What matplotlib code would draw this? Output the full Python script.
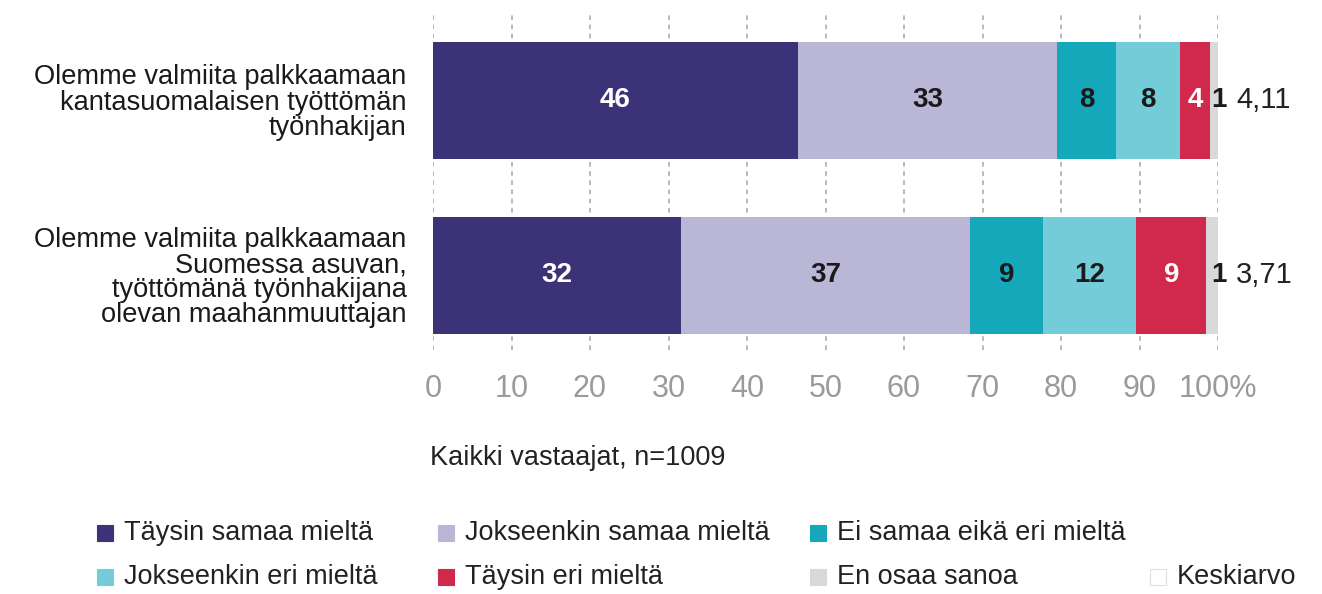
import matplotlib
matplotlib.use("Agg")
import matplotlib.pyplot as plt
from matplotlib.patches import Rectangle

plt.rcParams['font.family'] = ['Liberation Sans', 'DejaVu Sans']

categories = [
    "Olemme valmiita palkkaamaan\nkantasuomalaisen työttömän\ntyönhakijan",
    "Olemme valmiita palkkaamaan\nSuomessa asuvan,\ntyöttömänä työnhakijana\nolevan maahanmuuttajan",
]
series_names = ["Täysin samaa mieltä", "Jokseenkin samaa mieltä", "Ei samaa eikä eri mieltä",
                "Jokseenkin eri mieltä", "Täysin eri mieltä", "En osaa sanoa"]
# segment widths (percent)
values = [
    [46.5, 31.6],   # Täysin samaa
    [33.0, 36.8],   # Jokseenkin samaa
    [7.5, 9.3],     # Ei samaa eikä eri
    [8.2, 11.9],    # Jokseenkin eri
    [3.8, 8.9],     # Täysin eri
    [1.0, 1.5],     # En osaa sanoa
]
# printed labels
labels = [
    [46, 32], [33, 37], [8, 9], [8, 12], [4, 9], [1, 1],
]
means = ["4,11", "3,71"]
xticks = [0, 10, 20, 30, 40, 50, 60, 70, 80, 90, 100]
xticklabels = ["0", "10", "20", "30", "40", "50", "60", "70", "80", "90", "100%"]
note = "Kaikki vastaajat, n=1009"
mean_label = "Keskiarvo"

colors = ["#3b3278", "#b9b6d6", "#15a7ba", "#74ccd8", "#d1294c", "#d9d9d9"]
text_colors = ["white", "#1a1a1a", "#1a1a1a", "#1a1a1a", "white", "#1a1a1a"]

W, H = 1322, 594
fig = plt.figure(figsize=(W / 100, H / 100), dpi=100)
ax = fig.add_axes([433 / W, 1 - 350 / H, (1218 - 433) / W, (350 - 15) / H])

ypos = [0, 1]
height = 117 / 175
lefts = [0.0, 0.0]
for i, (name, vals) in enumerate(zip(series_names, values)):
    ax.barh(ypos, vals, left=lefts, height=height, color=colors[i], zorder=2, label=name)
    for j in range(len(ypos)):
        cx = lefts[j] + vals[j] / 2
        if i == len(series_names) - 1:
            ax.text(lefts[j] + vals[j] - 0.8, ypos[j], str(labels[i][j]), ha='left', va='center',
                    fontsize=20, fontweight='bold', color=text_colors[i], zorder=4)
        else:
            ax.text(cx, ypos[j], str(labels[i][j]), ha='center', va='center',
                    fontsize=20, fontweight='bold', color=text_colors[i], zorder=4)
        lefts[j] += vals[j]

for j in range(len(ypos)):
    ax.text(102.3, ypos[j], means[j], ha='left', va='center', fontsize=21, color='#222222')

ax.set_xlim(0, 100)
ax.set_ylim(1 + 75 / 175, -85 / 175)
for x in xticks:
    ax.axvline(x, color='#a6a6a6', linestyle=(0, (3, 3)), linewidth=1.1, zorder=1)
ax.set_xticks(xticks)
ax.set_xticklabels(xticklabels, fontsize=22, color='#9a9a9a')
ax.tick_params(axis='x', length=0, pad=17)
ax.set_yticks(ypos)
ax.set_yticklabels(categories, fontsize=19.6, color='#1a1a1a', linespacing=0.96, ha='right')
ax.tick_params(axis='y', length=0, pad=19)
for s in ax.spines.values():
    s.set_visible(False)

fig.text(430 / W, 1 - 458 / H, note, ha='left', va='center', fontsize=19.5, color='#222222')

# legend (manual placement)
leg_items = [
    (series_names[0], colors[0], 97, 533),
    (series_names[1], colors[1], 438, 533),
    (series_names[2], colors[2], 810, 533),
    (series_names[3], colors[3], 97, 577),
    (series_names[4], colors[4], 438, 577),
    (series_names[5], colors[5], 810, 577),
    (mean_label, "white", 1150, 577),
]
sq = 16
for name, col, x, y in leg_items:
    ec = '#e0e0e0' if col == "white" else col
    fig.patches.append(Rectangle((x / W, 1 - (y + sq / 2) / H), sq / W, sq / H,
                                 transform=fig.transFigure, facecolor=col, edgecolor=ec,
                                 linewidth=0.8))
    fig.text((x + sq + 11) / W, 1 - y / H, name, ha='left', va='center', fontsize=19.5, color='#222222')

fig.savefig("out.png", dpi=100)
